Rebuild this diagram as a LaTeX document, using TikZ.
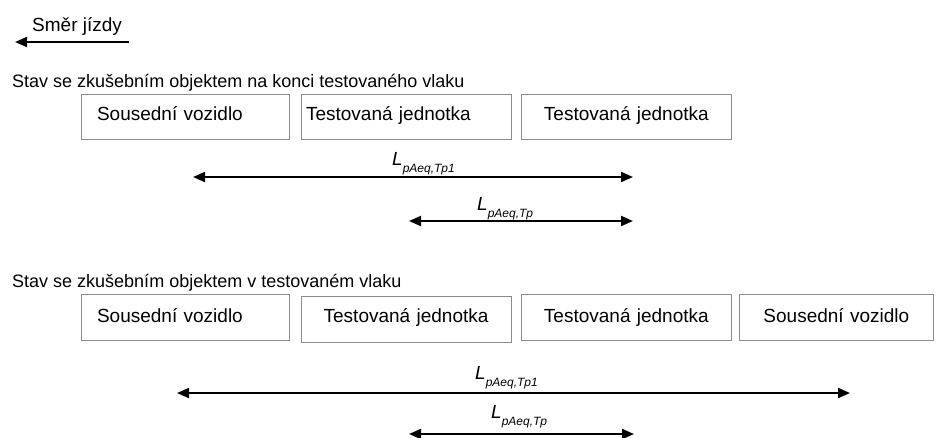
\documentclass[tikz,border=0pt]{standalone}
\usepackage{fontspec}
\setmainfont{Liberation Sans}
\usetikzlibrary{arrows.meta}
\usetikzlibrary{positioning}

\newcommand{\hlad}[1]{{\fontsize{19}{22}\selectfont\itshape L\raisebox{-7pt}{\fontsize{12}{14}\selectfont #1}}}

\begin{document}
\begin{tikzpicture}[x=1pt,y=-1pt,
  vuz/.style={draw=black!45, line width=0.7pt, anchor=north west, inner ysep=0pt,
    text height=26pt, text depth=19pt, font=\fontsize{19}{22}\selectfont},
  dolni/.style={text height=28pt, text depth=18pt},
  nadpis/.style={anchor=base west, inner sep=0pt, font=\fontsize{18}{21}\selectfont},
  popis/.style={anchor=base west, inner sep=0pt},
  delka/.style={line width=2pt, {Triangle[length=12pt,width=10pt]}-{Triangle[length=12pt,width=10pt]}}]
\useasboundingbox (0,0) rectangle (936,437);

% smer jizdy
\node[nadpis, font=\fontsize{19}{22}\selectfont] (smer) at (32,31) {Směr jízdy};
\coordinate (smerA) at (129,42);
\coordinate (smerB) at (15,42);
\draw[line width=2pt, -{Triangle[length=12pt,width=10pt]}] (smerA) -- (smerB);

% stav 1: na konci vlaku
\node[nadpis] (stav1) at (12,87) {Stav se zkušebním objektem na konci testovaného vlaku};
\node[vuz, inner xsep=16pt, text width=176pt, align=left] (a1) at (80.7,94) {Sousední vozidlo};
\node[vuz, inner xsep=5pt, text width=200pt, align=left] (a2) at (300.7,94) {Testovaná jednotka};
\node[vuz, inner xsep=0pt, text width=210pt, align=center] (a3) at (521,94) {Testovaná jednotka};

\coordinate (a4l) at (193,177);
\coordinate (a4r) at (633,177);
\coordinate (a5l) at (409,221);
\coordinate (a5r) at (633,221);
\draw[delka] (a4l) -- (a4r);
\draw[delka] (a5l) -- (a5r);
\node[popis] (la4) at (392,165) {\hlad{pAeq,Tp1}};
\node[popis] (la5) at (477,210) {\hlad{pAeq,Tp}};

% stav 2: uprostred vlaku
\node[nadpis] (stav2) at (12,287) {Stav se zkušebním objektem v testovaném vlaku};
\node[vuz, dolni, inner xsep=16pt, text width=176pt, align=left] (b1) at (80.7,294) {Sousední vozidlo};
\node[vuz, dolni, text height=26.5pt, text depth=19.5pt, inner xsep=0pt, text width=210pt, align=center] (b2) at (300.7,296) {Testovaná jednotka};
\node[vuz, dolni, inner xsep=0pt, text width=210pt, align=center] (b3) at (521,294) {Testovaná jednotka};
\node[vuz, dolni, inner xsep=0pt, text width=194pt, align=center] (b4) at (739,294) {Sousední vozidlo};

\coordinate (b5l) at (177,393);
\coordinate (b5r) at (850,393);
\coordinate (b6l) at (409,434);
\coordinate (b6r) at (634,434);
\draw[delka] (b5l) -- (b5r);
\draw[delka] (b6l) -- (b6r);
\node[popis] (lb5) at (475,379) {\hlad{pAeq,Tp1}};
\node[popis] (lb6) at (491,418) {\hlad{pAeq,Tp}};

\end{tikzpicture}
\end{document}
